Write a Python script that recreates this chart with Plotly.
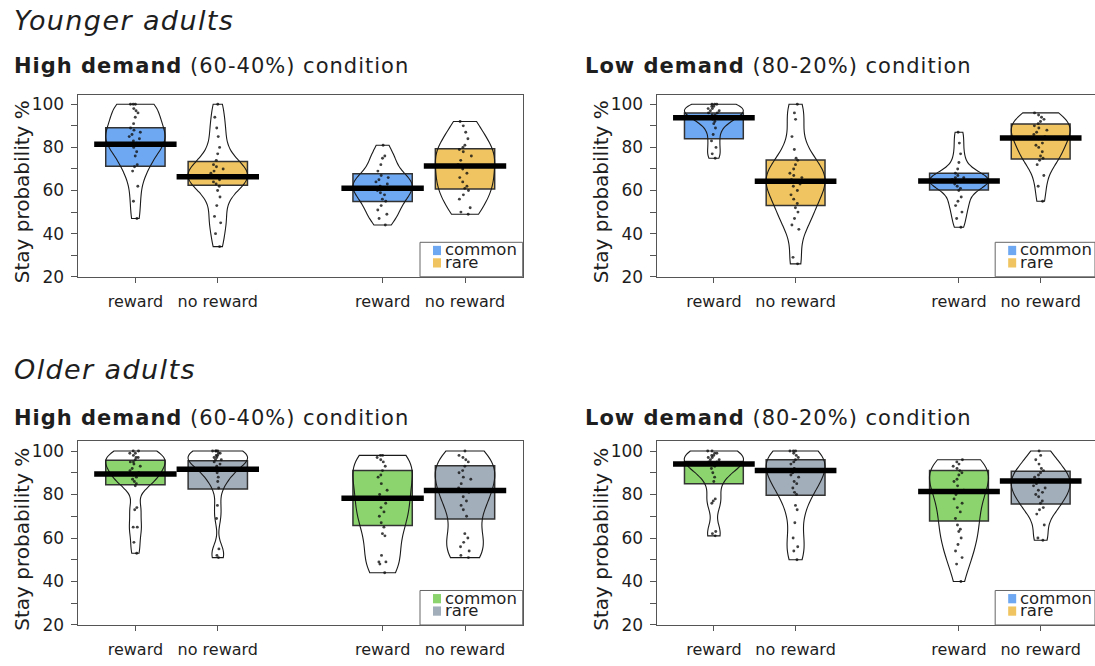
import numpy as np
import plotly.graph_objects as go

W, H = 1095, 666

# ---- data -------------------------------------------------------------
positions = [1, 2, 4, 5]
tick_labels = ["reward", "no reward", "reward", "no reward"]
legend_labels = ["common", "rare"]

# Younger adults, high demand (60-40%)
young_high_pts = [
    [100, 100, 100, 98, 97, 96, 94, 91, 89, 88, 87, 86, 85, 84, 83, 82, 81, 80, 78, 76, 72, 71, 69, 62, 55, 47],
    [100, 94, 89, 85, 80, 77, 74, 72, 71, 70, 69, 68, 67, 66, 65, 64, 63, 62, 60, 57, 53, 48, 45, 40, 34],
    [81, 76, 75, 72, 69, 67, 66, 65, 64, 63, 62, 61, 60, 59, 58, 56, 55, 53, 51, 49, 47, 44],
    [92, 90, 87, 84, 81, 80, 79, 78, 76, 74, 72, 71, 70, 68, 66, 64, 62, 61, 60, 58, 56, 52, 50, 49],
]
young_high_mean = [81.5, 66.4, 61.0, 71.4]
young_high_lo = [71.3, 62.5, 54.9, 60.7]
young_high_hi = [89.1, 73.5, 67.8, 79.4]

# Younger adults, low demand (80-20%)
young_low_pts = [
    [100, 100, 100, 99, 99, 98, 98, 97, 97, 96, 96, 95, 95, 94, 93, 92, 91, 89, 86, 83, 80, 77, 75],
    [100, 96, 93, 85, 79, 75, 74, 72, 70, 68, 67, 66, 65, 64, 63, 62, 60, 58, 56, 54, 52, 50, 47, 44, 42, 29, 26],
    [87, 82, 77, 73, 70, 68, 67, 66, 66, 65, 65, 64, 64, 63, 62, 61, 60, 57, 55, 53, 50, 47, 43],
    [96, 95, 94, 93, 92, 91, 90, 89, 88, 87, 86, 85, 84, 82, 81, 80, 78, 76, 75, 74, 72, 67, 62, 55],
]
young_low_mean = [93.8, 64.3, 64.4, 84.4]
young_low_lo = [84.0, 53.0, 60.2, 74.6]
young_low_hi = [96.0, 74.1, 68.0, 90.9]

# Older adults, high demand (60-40%)
old_high_pts = [
    [100, 100, 99, 99, 98, 97, 97, 96, 95, 95, 94, 93, 92, 91, 90, 89, 88, 87, 86, 85, 84, 74, 73, 65, 65, 58, 53],
    [100, 100, 100, 100, 99, 99, 98, 98, 97, 97, 96, 96, 95, 94, 93, 92, 91, 90, 88, 86, 83, 75, 69, 55, 52, 51],
    [98, 98, 97, 96, 95, 93, 91, 89, 88, 85, 82, 80, 78, 76, 74, 72, 70, 67, 65, 62, 61, 52, 49, 49, 48, 44],
    [100, 98, 97, 96, 95, 93, 91, 90, 88, 87, 85, 83, 81, 79, 77, 75, 73, 70, 62, 60, 58, 56, 54, 52, 51],
]
old_high_mean = [89.5, 91.6, 78.3, 81.8]
old_high_lo = [84.5, 82.5, 65.7, 68.7]
old_high_hi = [95.8, 95.5, 91.0, 93.2]

# Older adults, low demand (80-20%)
old_low_pts = [
    [100, 100, 99, 99, 98, 98, 97, 97, 96, 96, 95, 95, 94, 93, 92, 90, 88, 86, 78, 77, 76, 63, 62, 61],
    [100, 100, 100, 99, 98, 97, 96, 95, 94, 92, 91, 90, 89, 88, 86, 85, 83, 81, 80, 75, 73, 67, 60, 56, 54, 50],
    [96, 95, 94, 93, 92, 91, 90, 89, 87, 86, 84, 82, 80, 78, 76, 74, 72, 69, 66, 64, 63, 60, 57, 54, 51, 48, 40],
    [100, 98, 96, 94, 92, 91, 90, 89, 88, 87, 86, 85, 84, 83, 82, 81, 80, 79, 77, 76, 74, 73, 71, 66, 60, 59],
]
old_low_mean = [94.0, 91.0, 81.4, 86.2]
old_low_lo = [85.0, 79.7, 67.8, 75.6]
old_low_hi = [95.2, 96.0, 91.0, 90.7]

# ---- styling ----------------------------------------------------------
BLUE, YELLOW = "#6fa8f2", "#f0c561"
GREEN, GREY = "#8cd46e", "#a3aebb"
FONT = "DejaVu Sans"
TXT = "#1e1e1e"
AXIS = "#555555"
Y_RANGE = [20, 104.5]
X0 = 0.3
UNIT_LEFT = 445 / 5.4
UNIT_RIGHT = 81.7


def px_x(v):
    return v / W


def px_y(v):
    return 1 - v / H


def nrd0(v):
    v = np.asarray(v, float)
    sd = v.std(ddof=1)
    q75, q25 = np.percentile(v, [75, 25])
    spread = min(sd, (q75 - q25) / 1.34) if q75 > q25 else sd
    return 0.9 * spread * len(v) ** -0.2


panels = [
    # (points, means, lows, highs, fill colours, legend colours, left px, unit, top px, bottom px, right side)
    (young_high_pts, young_high_mean, young_high_lo, young_high_hi, [BLUE, YELLOW], [BLUE, YELLOW], 77.7, UNIT_LEFT, 96, 281, False),
    (young_low_pts, young_low_mean, young_low_lo, young_low_hi, [BLUE, YELLOW], [BLUE, YELLOW], 656.7, UNIT_RIGHT, 96, 281, True),
    (old_high_pts, old_high_mean, old_high_lo, old_high_hi, [GREEN, GREY], [GREEN, GREY], 77.7, UNIT_LEFT, 448, 634.5, False),
    (old_low_pts, old_low_mean, old_low_lo, old_low_hi, [GREEN, GREY], [BLUE, YELLOW], 656.7, UNIT_RIGHT, 448, 634.5, True),
]

fig = go.Figure()
shapes = []
annotations = []
layout_axes = {}

for i, (pts, means, lows, highs, cols, leg_cols, left, unit, top, bottom, right_side) in enumerate(panels):
    n = i + 1
    xa, ya = ("x", "y") if n == 1 else (f"x{n}", f"y{n}")
    xkey, ykey = ("xaxis", "yaxis") if n == 1 else (f"xaxis{n}", f"yaxis{n}")
    frame_right = left + 5.4 * unit
    right_px = min(frame_right, W)
    x_range = [X0, X0 + (right_px - left) / unit]

    for g, pos in enumerate(positions):
        col = cols[g % 2]
        # inference band
        fig.add_trace(go.Bar(
            x=[pos], y=[highs[g] - lows[g]], base=[lows[g]], width=0.72,
            marker=dict(color=col, line=dict(color="#333333", width=1.5)),
            xaxis=xa, yaxis=ya, showlegend=False, hoverinfo="skip",
        ))
        # bean + raw data
        fig.add_trace(go.Violin(
            x=[pos] * len(pts[g]), y=pts[g], xaxis=xa, yaxis=ya,
            width=0.72, scalemode="width", spanmode="hard", bandwidth=nrd0(pts[g]),
            line=dict(color="#1a1a1a", width=1.1),
            fillcolor="rgba(255,255,255,0)",
            points="all", jitter=0.25, pointpos=0,
            marker=dict(size=2.9, color="#111111", opacity=0.8),
            box_visible=False, meanline_visible=False,
            showlegend=False, hoverinfo="skip",
        ))
        # mean
        fig.add_trace(go.Scatter(
            x=[pos - 0.5, pos + 0.5], y=[means[g], means[g]], mode="lines",
            line=dict(color="#000000", width=5.5),
            xaxis=xa, yaxis=ya, showlegend=False, hoverinfo="skip",
        ))

    layout_axes[xkey] = dict(
        domain=[px_x(left), px_x(right_px)], range=x_range, anchor=ya,
        tickvals=positions, ticktext=tick_labels, ticks="outside", ticklen=5,
        tickwidth=1.2, tickcolor=AXIS, showline=True, linecolor=AXIS, linewidth=1.3,
        mirror=True, showgrid=False, zeroline=False, ticklabelstandoff=5,
        tickfont=dict(family=FONT, size=16, color=TXT),
    )
    layout_axes[ykey] = dict(
        domain=[px_y(bottom), px_y(top)], range=Y_RANGE, anchor=xa,
        tickvals=list(range(20, 101, 10)),
        ticktext=[str(v) if v % 20 == 0 else "" for v in range(20, 101, 10)],
        ticks="outside", ticklen=6, tickwidth=1.2, tickcolor=AXIS,
        showline=True, linecolor=AXIS, linewidth=1.3,
        mirror=(not right_side), showgrid=False, zeroline=False,
        ticklabelstandoff=3,
        tickfont=dict(family=FONT, size=17, color=TXT),
    )

    # y axis title
    annotations.append(dict(
        text="Stay probability %", textangle=-90, showarrow=False,
        xref="paper", yref="paper", x=px_x(left - 56), y=px_y((top + bottom) / 2 + 6),
        xanchor="center", yanchor="middle",
        font=dict(family=FONT, size=20, color=TXT),
    ))

    # legend block
    lx0 = frame_right - 102.7
    shapes.append(dict(type="rect", xref="paper", yref="paper",
                       x0=px_x(lx0), x1=px_x(min(frame_right, W)),
                       y0=px_y(bottom), y1=px_y(bottom - 35),
                       line=dict(color="#666666", width=1), fillcolor="white"))
    for k, (lab, lc) in enumerate(zip(legend_labels, leg_cols)):
        cy = bottom - 26.7 + 12.6 * k
        shapes.append(dict(type="rect", xref="paper", yref="paper",
                           x0=px_x(lx0 + 13), x1=px_x(lx0 + 21),
                           y0=px_y(cy + 4.7), y1=px_y(cy - 4.7),
                           line=dict(width=0), fillcolor=lc))
        annotations.append(dict(
            text=lab, showarrow=False, xref="paper", yref="paper",
            x=px_x(lx0 + 22.5), y=px_y(cy - 0.5), xanchor="left", yanchor="middle",
            font=dict(family=FONT, size=16.5, color=TXT),
        ))

# headings
headings = [
    ("<i>Younger adults</i>", 12, 21, 27, 1.4),
    ("<b>High demand</b> (60-40%) condition", 12, 67, 21, 1.0),
    ("<b>Low demand</b> (80-20%) condition", 583, 67, 21, 1.0),
    ("<i>Older adults</i>", 12, 375, 27, 1.4),
    ("<b>High demand</b> (60-40%) condition", 12, 424, 21, 1.0),
    ("<b>Low demand</b> (80-20%) condition", 583, 424, 21, 1.0),
]
for text, hx, hy, size, spacing in headings:
    annotations.append(dict(
        text=f'<span style="letter-spacing:{spacing}px">{text}</span>',
        showarrow=False, xref="paper", yref="paper",
        x=px_x(hx), y=px_y(hy), xanchor="left", yanchor="middle",
        font=dict(family=FONT, size=size, color=TXT),
    ))

fig.update_layout(
    width=W, height=H, margin=dict(l=0, r=0, t=0, b=0),
    paper_bgcolor="white", plot_bgcolor="white",
    barmode="overlay", violinmode="overlay",
    showlegend=False, shapes=shapes, annotations=annotations,
    **layout_axes,
)

fig.write_html("out.html")
